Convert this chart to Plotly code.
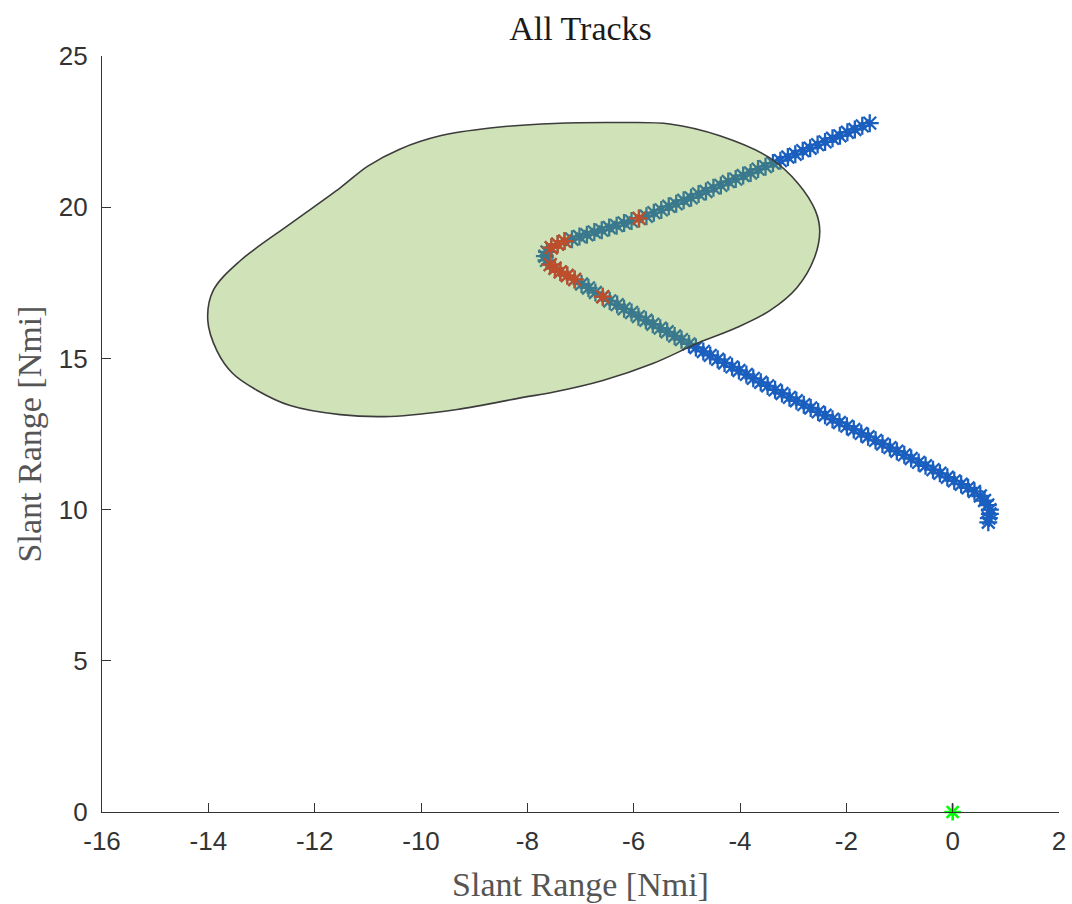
import plotly.graph_objects as go

# Track reports (Nmi): along-track positions of the target
track_x = [
    -1.56, -1.70, -1.84, -1.98, -2.12, -2.26, -2.40, -2.54, -2.68, -2.82,
    -2.96, -3.10, -3.24, -3.38, -3.52, -3.66, -3.80, -3.94, -4.08, -4.22,
    -4.36, -4.50, -4.64, -4.78, -4.92, -5.06, -5.20, -5.34, -5.48, -5.62,
    -5.76, -5.90, -6.04, -6.18, -6.32, -6.46, -6.60, -6.74, -6.88, -7.02,
    -7.16, -7.30, -7.43, -7.55, -7.63, -7.67, -7.64, -7.57, -7.48, -7.38,
    -7.25, -7.11, -6.98, -6.85, -6.72, -6.58, -6.45, -6.31, -6.18, -6.04,
    -5.91, -5.77, -5.64, -5.50, -5.37, -5.23, -5.10, -4.96, -4.83, -4.69,
    -4.56, -4.42, -4.29, -4.15, -4.02, -3.88, -3.75, -3.61, -3.48, -3.34,
    -3.21, -3.07, -2.94, -2.80, -2.67, -2.53, -2.40, -2.26, -2.13, -1.99,
    -1.86, -1.72, -1.59, -1.45, -1.32, -1.18, -1.05, -0.91, -0.78, -0.64,
    -0.51, -0.37, -0.24, -0.10, 0.03, 0.16, 0.29, 0.41, 0.52, 0.60,
    0.66, 0.70, 0.70, 0.68, 0.67,
]
track_y = [
    22.78, 22.69, 22.57, 22.48, 22.36, 22.28, 22.16, 22.07, 21.95, 21.87,
    21.75, 21.66, 21.54, 21.46, 21.34, 21.26, 21.13, 21.05, 20.93, 20.85,
    20.72, 20.64, 20.52, 20.44, 20.31, 20.23, 20.11, 20.03, 19.91, 19.82,
    19.70, 19.63, 19.54, 19.48, 19.39, 19.33, 19.24, 19.18, 19.09, 19.03,
    18.94, 18.88, 18.78, 18.66, 18.52, 18.38, 18.24, 18.10, 17.98, 17.86,
    17.74, 17.61, 17.46, 17.33, 17.18, 17.04, 16.90, 16.78, 16.64, 16.52,
    16.38, 16.26, 16.13, 16.00, 15.88, 15.74, 15.62, 15.48, 15.36, 15.23,
    15.10, 14.97, 14.85, 14.72, 14.60, 14.47, 14.34, 14.21, 14.09, 13.96,
    13.84, 13.71, 13.60, 13.47, 13.36, 13.23, 13.12, 12.99, 12.88, 12.76,
    12.65, 12.52, 12.41, 12.29, 12.17, 12.05, 11.93, 11.81, 11.69, 11.56,
    11.45, 11.32, 11.20, 11.07, 10.95, 10.84, 10.72, 10.60, 10.45, 10.30,
    10.15, 10.00, 9.86, 9.72, 9.58,
]

# Reports flagged inside the turn
flag_x = [-5.90, -7.30, -7.43, -7.55, -7.57, -7.48, -7.38, -7.25, -7.11, -6.58]
flag_y = [19.63, 18.88, 18.78, 18.66, 18.10, 17.98, 17.86, 17.74, 17.61, 17.04]

# Region boundary (Nmi), traced clockwise from the western tip
zone_x = [
    -14.01, -13.91, -13.40, -12.46, -11.52, -11.00, -10.40, -9.64, -8.70, -7.50,
    -6.20, -5.32, -4.38, -3.44, -2.90, -2.58, -2.50, -2.60, -2.93, -3.44,
    -4.06, -4.81, -5.64, -6.58, -7.52, -8.08, -9.32, -10.58, -11.52, -12.46,
    -13.08, -13.54, -13.84, -14.01,
]
zone_y = [
    16.25, 17.24, 18.23, 19.45, 20.64, 21.36, 21.92, 22.36, 22.62, 22.77,
    22.80, 22.75, 22.36, 21.63, 20.77, 19.88, 19.22, 18.33, 17.34, 16.58,
    16.02, 15.49, 14.83, 14.27, 13.88, 13.71, 13.31, 13.08, 13.14, 13.44,
    13.94, 14.50, 15.26, 16.25,
]

# Sensor location
sensor_x = [0.0]
sensor_y = [0.0]

x_ticks = [-16, -14, -12, -10, -8, -6, -4, -2, 0, 2]
y_ticks = [0, 5, 10, 15, 20, 25]

BLUE = "#1a5fbf"
RED = "#d4471c"

fig = go.Figure()

fig.add_trace(go.Scatter(
    x=track_x, y=track_y, mode="markers",
    marker=dict(symbol="asterisk-open", size=15, color=BLUE,
                line=dict(color=BLUE, width=2.3)),
    showlegend=False, hoverinfo="skip",
))
fig.add_trace(go.Scatter(
    x=zone_x, y=zone_y, mode="lines", fill="toself",
    fillcolor="rgba(119,172,48,0.35)",
    line=dict(color="#3c3c3c", width=1.6, shape="spline", smoothing=1.0),
    showlegend=False, hoverinfo="skip",
))
fig.add_trace(go.Scatter(
    x=flag_x, y=flag_y, mode="markers",
    marker=dict(symbol="asterisk-open", size=15, color=RED,
                line=dict(color=RED, width=2.3)),
    opacity=0.85,
    showlegend=False, hoverinfo="skip",
))
fig.add_trace(go.Scatter(
    x=sensor_x, y=sensor_y, mode="markers", cliponaxis=False,
    marker=dict(symbol="asterisk-open", size=14, color="#00ff00",
                line=dict(color="#00ff00", width=2.6)),
    showlegend=False, hoverinfo="skip",
))

serif = "Liberation Serif, Times New Roman, serif"
sans = "Liberation Sans, Arial, sans-serif"

fig.update_layout(
    width=1072, height=904,
    margin=dict(l=102, r=13, t=56, b=92),
    paper_bgcolor="white", plot_bgcolor="white",
    title=dict(text="All Tracks", x=0.5415, xanchor="center",
               y=1 - 28 / 904, yanchor="middle", yref="container",
               font=dict(family=serif, size=34, color="#1a1a1a")),
    xaxis=dict(
        range=[-16, 2], tickvals=x_ticks,
        ticktext=[str(v).replace("\u2212", "-") for v in x_ticks],
        ticks="inside", ticklen=9, tickwidth=1.2, tickcolor="#333333",
        showline=True, linecolor="#333333", linewidth=1.4,
        showgrid=False, zeroline=False, automargin=False,
        ticklabelstandoff=6,
        tickfont=dict(family=sans, size=26, color="#333333"),
        title=dict(text="Slant Range [Nmi]", standoff=16,
                   font=dict(family=serif, size=34, color="#555555")),
    ),
    yaxis=dict(
        range=[0, 25], tickvals=y_ticks,
        ticktext=[str(v) for v in y_ticks],
        ticks="inside", ticklen=9, tickwidth=1.2, tickcolor="#333333",
        showline=True, linecolor="#333333", linewidth=1.4,
        showgrid=False, zeroline=False, automargin=False,
        ticklabelstandoff=8,
        tickfont=dict(family=sans, size=26, color="#333333"),
        title=dict(text="Slant Range [Nmi]", standoff=6,
                   font=dict(family=serif, size=34, color="#555555")),
    ),
)

fig.write_html("out.html")
